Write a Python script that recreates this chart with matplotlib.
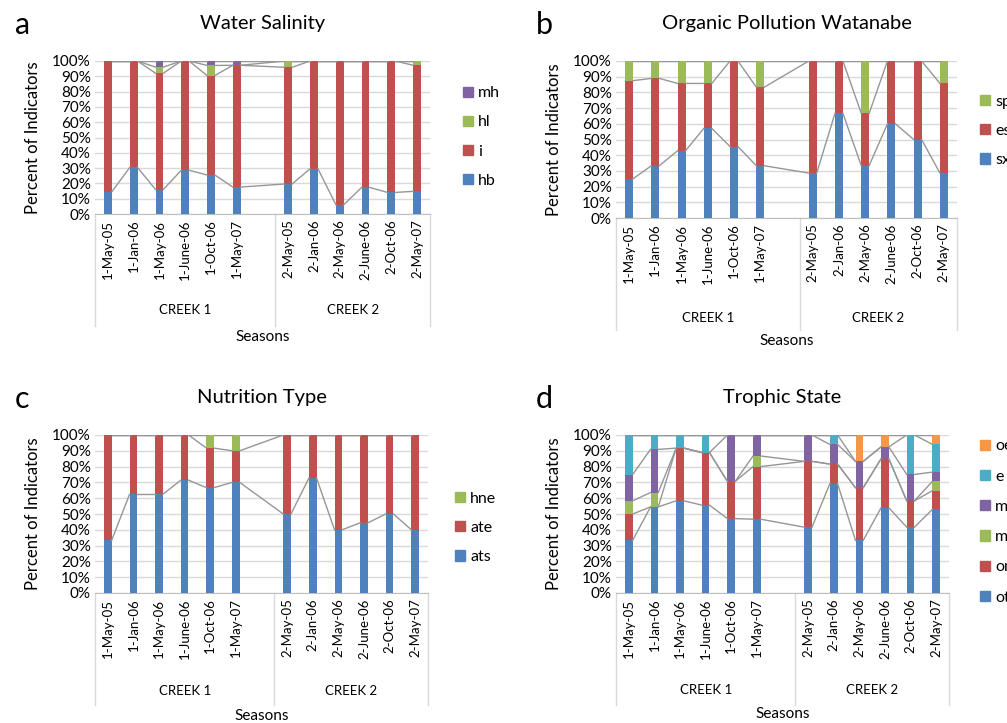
import matplotlib.pyplot as plt
import numpy as np
from matplotlib.patches import Patch

plt.rcParams['font.family'] = ['Lato', 'DejaVu Sans']

seasons = ['1-May-05', '1-Jan-06', '1-May-06', '1-June-06', '1-Oct-06', '1-May-07',
           '2-May-05', '2-Jan-06', '2-May-06', '2-June-06', '2-Oct-06', '2-May-07']
creeks = ['CREEK 1', 'CREEK 2']

# a - water salinity
sal_names = ['hb', 'i', 'hl', 'mh']
sal_hb = [14.5, 30.4, 16.0, 28.6, 25.5, 17.6, 19.6, 29.6, 6.0, 17.4, 14.1, 14.8]
sal_i = [85.5, 69.6, 76.0, 71.4, 65.0, 79.6, 76.3, 70.4, 94.0, 82.6, 85.9, 82.4]
sal_hl = [0, 0, 4.0, 0, 6.6, 0, 4.1, 0, 0, 0, 0, 2.8]
sal_mh = [0, 0, 4.0, 0, 2.9, 2.8, 0, 0, 0, 0, 0, 0]

# b - organic pollution
org_names = ['sx', 'es', 'sp']
org_sx = [25.0, 33.3, 42.9, 57.1, 45.5, 33.3, 28.6, 66.7, 33.3, 60.0, 50.0, 28.6]
org_es = [62.5, 55.6, 42.9, 28.6, 54.5, 50.0, 71.4, 33.3, 33.3, 40.0, 50.0, 57.1]
org_sp = [12.5, 11.1, 14.3, 14.3, 0, 16.7, 0, 0, 33.3, 0, 0, 14.3]

# c - nutrition type
nut_names = ['ats', 'ate', 'hne']
nut_ats = [33.3, 62.5, 62.5, 71.4, 66.7, 70.0, 50.0, 72.7, 40.0, 44.4, 50.0, 40.0]
nut_ate = [66.7, 37.5, 37.5, 28.6, 25.0, 20.0, 50.0, 27.3, 60.0, 55.6, 50.0, 60.0]
nut_hne = [0, 0, 0, 0, 8.3, 10.0, 0, 0, 0, 0, 0, 0]

# d - trophic state
tro_names = ['ot', 'om', 'm', 'me', 'e', 'oe']
tro_ot = [33.3, 54.5, 58.3, 55.6, 47.1, 46.7, 41.7, 69.2, 33.3, 54.0, 41.7, 52.9]
tro_om = [16.7, 0, 33.3, 33.3, 23.5, 33.3, 41.7, 12.4, 33.3, 31.0, 16.7, 11.8]
tro_m = [8.3, 9.1, 0, 0, 0, 6.7, 0, 0, 0, 0, 0, 5.9]
tro_me = [16.7, 27.3, 0, 0, 29.4, 13.3, 16.7, 12.4, 16.7, 7.5, 16.7, 5.9]
tro_e = [25.0, 9.1, 8.3, 11.1, 0, 0, 0, 6.0, 0, 0, 25.0, 17.6]
tro_oe = [0, 0, 0, 0, 0, 0, 0, 0, 16.7, 7.5, 0, 5.9]

blue, red, green, purple, teal, orange = '#4F81BD', '#C0504D', '#9BBB59', '#8064A2', '#4BACC6', '#F79646'

W, H = 1007, 723
fig = plt.figure(figsize=(W / 100, H / 100), dpi=100)


def panel(box, series, names, colors, title, letter, leg_xy, leg_space, creek_off, seasons_off):
    l, r, t, b = box
    ax = fig.add_axes([l / W, 1 - b / H, (r - l) / W, (b - t) / H])
    ax_h = b - t
    # slots: 6 bars creek 1, one empty slot, 6 bars creek 2
    x = np.array([0, 1, 2, 3, 4, 5, 7, 8, 9, 10, 11, 12])
    data = np.array(series, dtype=float)
    data = data / data.sum(axis=0) * 100
    w = 0.3
    bottom = np.zeros(len(x))
    tops = []
    for vals, c, n in zip(data, colors, names):
        ax.bar(x, vals, w, bottom=bottom, color=c, label=n, zorder=3)
        bottom = bottom + vals
        tops.append(bottom.copy())
    # series lines
    for top in tops:
        for i in range(len(x) - 1):
            ax.plot([x[i] + w / 2, x[i + 1] - w / 2], [top[i], top[i + 1]],
                    color='#969696', lw=1, zorder=4)
    ax.set_xlim(-0.5, 12.5)
    ax.set_ylim(0, 100)
    ax.set_yticks(np.arange(0, 101, 10))
    ax.set_yticklabels([f'{v}%' for v in range(0, 101, 10)], fontsize=11)
    ax.yaxis.grid(True, color='#D9D9D9', lw=1, zorder=0)
    ax.set_axisbelow(True)
    for s in ['top', 'right', 'left']:
        ax.spines[s].set_visible(False)
    ax.spines['bottom'].set_color('#BFBFBF')
    ax.tick_params(axis='y', length=0, pad=3)
    ax.tick_params(axis='x', length=0, pad=4)
    ax.set_xticks(x)
    ax.set_xticklabels(seasons, rotation=90, fontsize=9.5)
    ax.set_ylabel('Percent of Indicators', fontsize=12, labelpad=8)
    # category boxes
    depth = -112 / ax_h
    for xv in [-0.5, 6.5, 12.5]:
        ax.plot([xv, xv], [0, depth], color='#D9D9D9', lw=1,
                transform=ax.get_xaxis_transform(), clip_on=False)
    ax.text(3, -creek_off / ax_h, creeks[0], ha='center', va='center', fontsize=9.5,
            transform=ax.get_xaxis_transform())
    ax.text(9.5, -creek_off / ax_h, creeks[1], ha='center', va='center', fontsize=9.5,
            transform=ax.get_xaxis_transform())
    ax.text(0.5, -seasons_off / ax_h, 'Seasons', ha='center', va='center', fontsize=11,
            transform=ax.transAxes)
    ax.set_title(title, fontsize=14.5, pad=23)
    fig.text((l - 80) / W, 1 - (t - 36) / H, letter, fontsize=22, ha='left', va='center')
    handles = [Patch(color=c, label=n) for c, n in zip(colors, names)][::-1]
    fig.legend(handles=handles, loc='center left', frameon=False, fontsize=11.5,
               bbox_to_anchor=(leg_xy[0] / W, 1 - leg_xy[1] / H), borderpad=0,
               borderaxespad=0, handlelength=0.6, handleheight=0.6, handletextpad=0.35,
               labelspacing=leg_space)
    return ax


panel((95, 430, 61, 214), [sal_hb, sal_i, sal_hl, sal_mh], sal_names,
      [blue, red, green, purple], 'Water Salinity', 'a', (463, 137), 0.95, 96, 123)
panel((616, 957, 61, 218), [org_sx, org_es, org_sp], org_names,
      [blue, red, green], 'Organic Pollution Watanabe', 'b', (980, 131), 0.95, 100, 123)
panel((95, 428, 435, 593), [nut_ats, nut_ate, nut_hne], nut_names,
      [blue, red, green], 'Nutrition Type', 'c', (455, 528), 0.95, 98, 123)
panel((616, 949, 435, 593), [tro_ot, tro_om, tro_m, tro_me, tro_e, tro_oe], tro_names,
      [blue, red, green, purple, teal, orange], 'Trophic State', 'd', (980, 522), 1.02, 97, 121)

fig.savefig('out.png', dpi=100)
